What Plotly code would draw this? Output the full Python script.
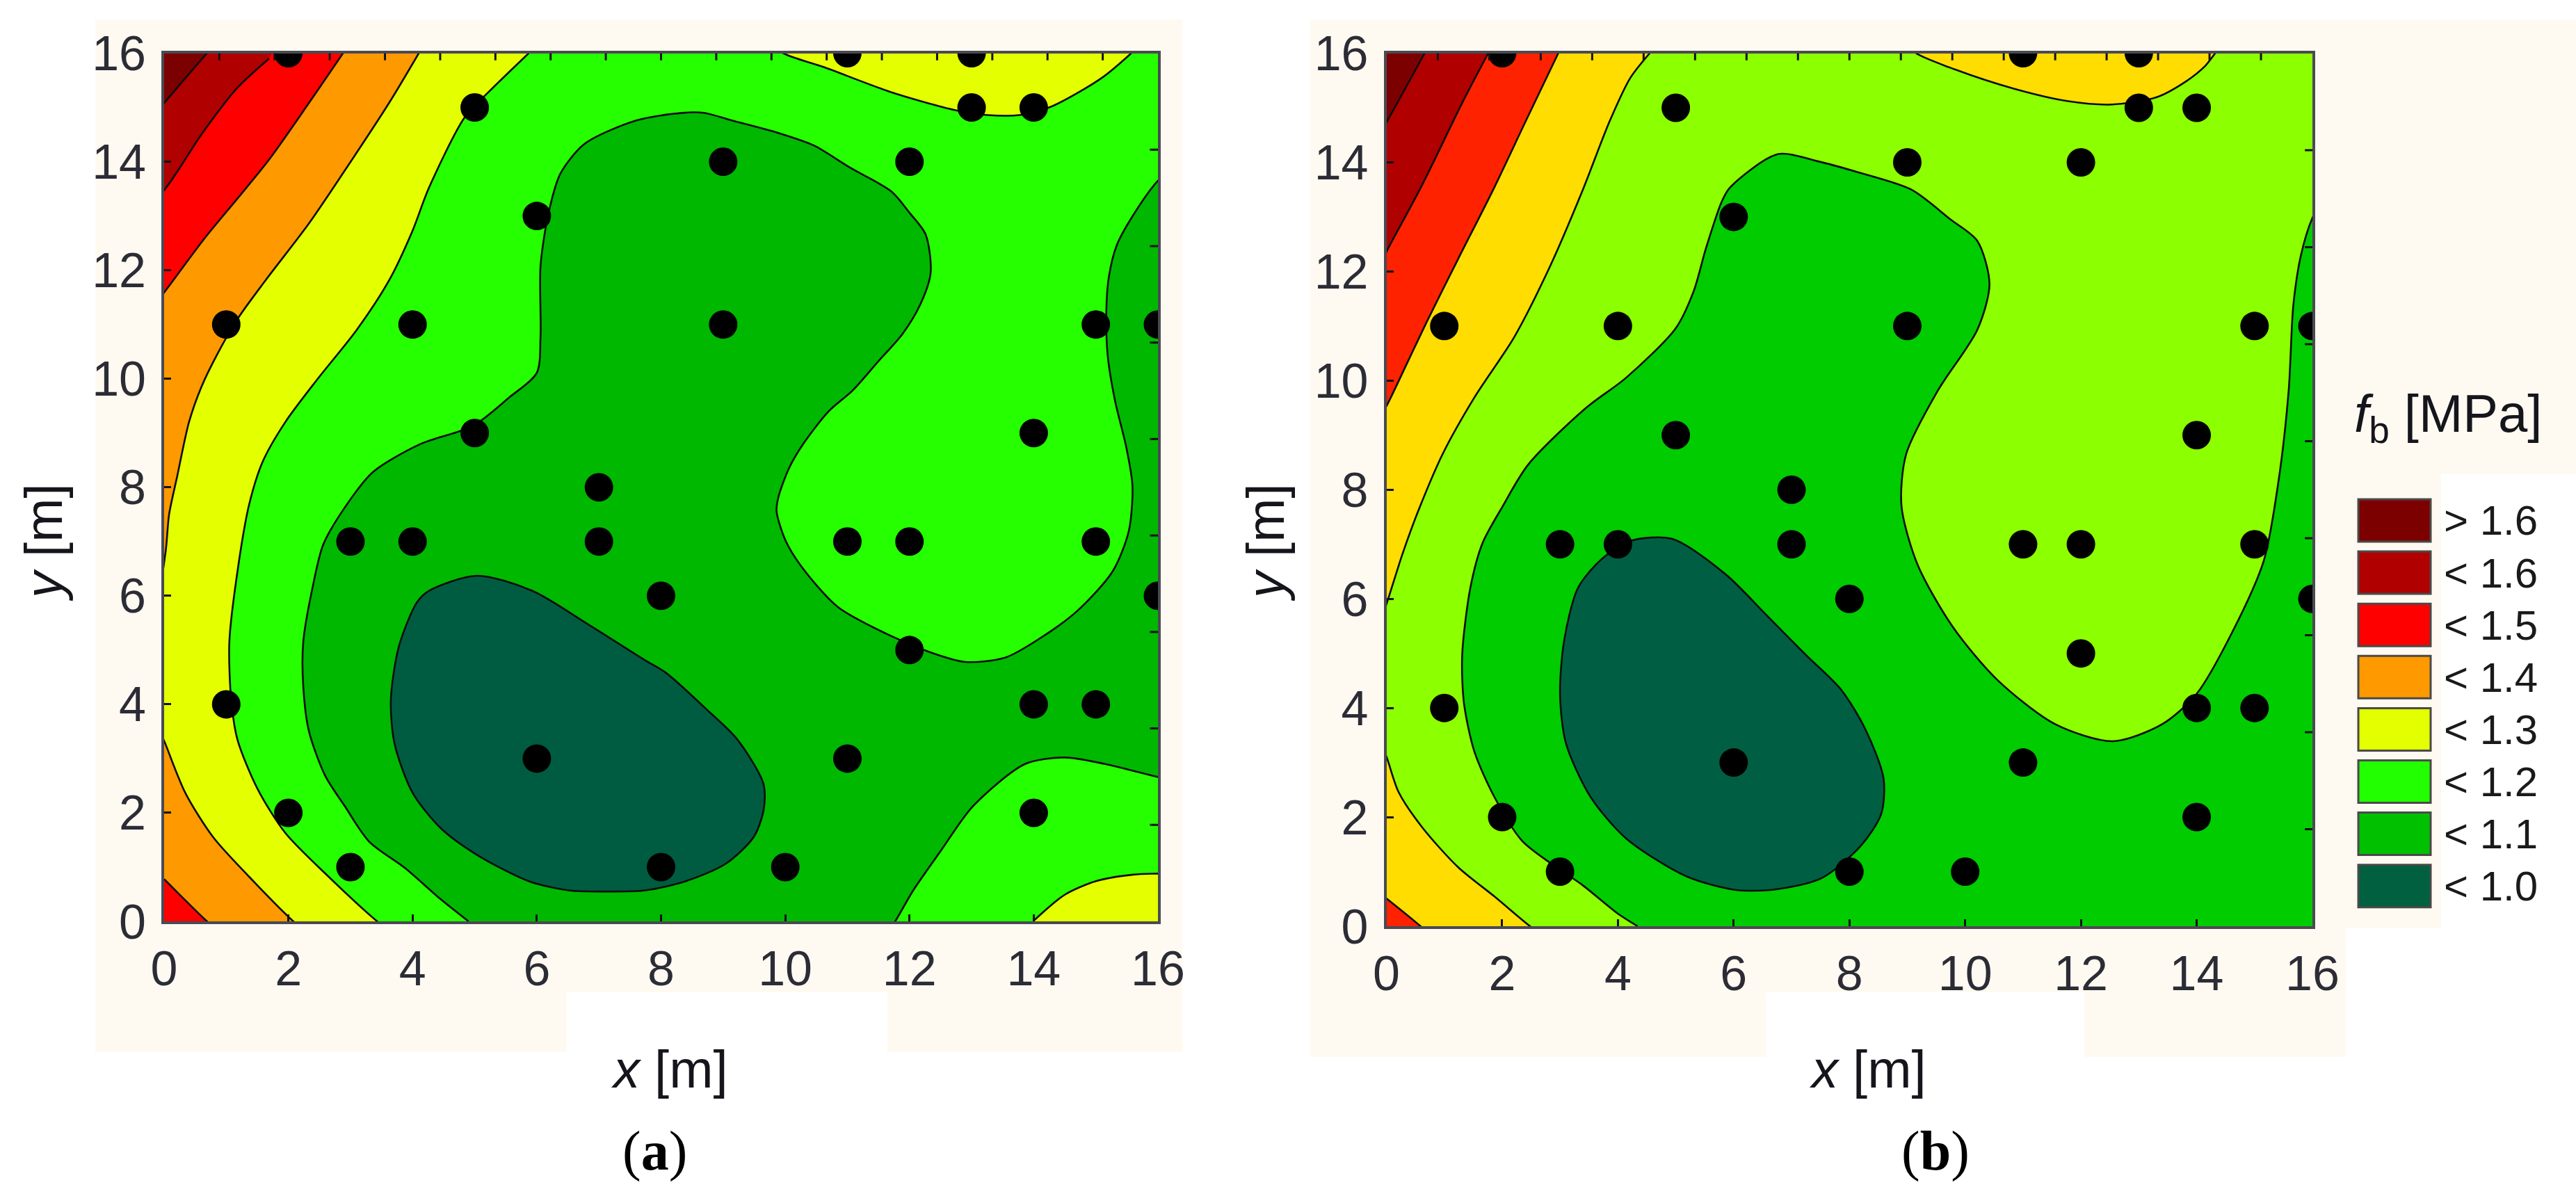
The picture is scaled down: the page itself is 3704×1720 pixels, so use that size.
import plotly.graph_objects as go

W, H = 3704, 1720

# ---------- measurement points (same in both panels)
POINT_X = [2, 11, 13, 5, 13, 14, 9, 12, 6, 1, 4, 9, 15, 16, 5, 14, 7, 3, 4, 7, 11, 12, 15, 8, 16, 12, 1, 14, 15, 6, 11, 2, 14, 3, 8, 10]
POINT_Y = [16, 16, 16, 15, 15, 15, 14, 14, 13, 11, 11, 11, 11, 11, 9, 9, 8, 7, 7, 7, 7, 7, 7, 6, 6, 5, 4, 4, 4, 3, 3, 2, 2, 1, 1, 1]

TICKS = [0, 2, 4, 6, 8, 10, 12, 14, 16]

LEGEND_LABELS = ["> 1.6", "< 1.6", "< 1.5", "< 1.4", "< 1.3", "< 1.2", "< 1.1", "< 1.0"]
LEGEND_COLORS = ["#7d0000", "#b00000", "#ff0000", "#ff9900", "#e4ff00", "#22ff00", "#00c000", "#006040"]

# ---------- panel (a) contour boundaries
A_C11_X = [4.9, 4.45, 3.88, 3.3, 2.91, 2.59, 2.33, 2.24, 2.24, 2.4, 2.56, 2.91, 3.36, 4.13, 4.97, 5.55, 6.0, 6.06, 6.06, 6.19, 6.38, 6.77, 7.6, 8.34, 8.69, 9.14, 9.89, 10.46, 11.03, 11.71, 12.0, 12.26, 12.34, 12.17, 11.89, 11.49, 11.09, 10.69, 10.29, 10.06, 9.89, 9.86, 10.0, 10.26, 10.84, 11.61, 12.38, 12.9, 13.54, 14.12, 14.7, 15.27, 15.53, 15.59, 15.49, 15.31, 15.19, 15.17, 15.21, 15.34, 15.66, 16, 17, 17, 16, 15.15, 14.5, 13.86, 13.02, 12.51, 12.06, 11.77, 11.4, 5.4]
A_C11_Y = [0, 0.41, 0.98, 1.47, 2.12, 2.69, 3.51, 4.33, 5.15, 6.21, 6.94, 7.63, 8.28, 8.8, 9.13, 9.65, 10.11, 10.77, 12.08, 13.06, 13.78, 14.33, 14.76, 14.9, 14.9, 14.76, 14.53, 14.3, 13.9, 13.45, 13.06, 12.66, 11.95, 11.36, 10.83, 10.31, 9.79, 9.39, 8.8, 8.35, 7.82, 7.56, 7.03, 6.54, 5.8, 5.31, 4.94, 4.78, 4.86, 5.23, 5.72, 6.45, 7.19, 8.02, 8.74, 9.59, 10.44, 11.29, 11.88, 12.47, 13.12, 13.65, 14.6, 2.4, 2.66, 2.9, 3.02, 2.9, 2.12, 1.31, 0.57, 0, -0.6, -0.6]

A_C10_X = [5.03, 5.93, 6.83, 7.73, 8.08, 8.72, 9.23, 9.65, 9.65, 9.49, 9.04, 8.4, 7.75, 7.1, 6.51, 5.87, 5.03, 4.45, 4.0, 3.71, 3.65, 3.78, 4.07, 4.26]
A_C10_Y = [6.37, 6.09, 5.47, 4.82, 4.58, 3.92, 3.35, 2.53, 2.04, 1.55, 1.06, 0.74, 0.57, 0.55, 0.57, 0.74, 1.23, 1.72, 2.37, 3.27, 4.08, 5.07, 5.88, 6.09]

A_C12_X = [5.87, 5.22, 4.84, 4.26, 4.0, 3.62, 3.1, 2.46, 1.95, 1.59, 1.37, 1.2, 1.05, 1.08, 1.18, 1.5, 1.95, 2.65, 3.43, 3.9, -1, -1, 6.6]
A_C12_Y = [16, 15.28, 14.82, 13.51, 12.73, 11.81, 10.9, 9.98, 9.2, 8.48, 7.69, 6.6, 5.15, 4.08, 3.35, 2.45, 1.63, 0.82, 0, -0.4, -1, 17, 16.8]

A_C13_TOP_X = [4.1, 3.62, 2.91, 2.33, 1.63, 1.18, 0.85, 0.6, 0.4, 0.21, 0.08, 0.02, -0.1, -1, -1, 4.7]
A_C13_TOP_Y = [16, 15.08, 13.84, 12.86, 11.81, 11.1, 10.44, 9.85, 9.2, 8.2, 7.5, 6.78, 6.2, 5.5, 17, 17]
A_C13_LOW_X = [-0.1, 0.02, 0.34, 0.79, 1.37, 2.08, 2.5, -1, -1]
A_C13_LOW_Y = [3.6, 3.27, 2.37, 1.55, 0.82, 0, -0.4, -1, 4]

A_C14_TOP_X = [2.88, 2.33, 1.69, 1.18, 0.66, 0.02, -0.4, -1, 3.4]
A_C14_TOP_Y = [16, 15.08, 14.04, 13.32, 12.6, 11.62, 11, 17, 17]
A_C14_LOW_X = [0, 0.69, 1.1, -1, -1]
A_C14_LOW_Y = [0.78, 0, -0.4, -1, 1.5]

A_C15_X = [1.69, 1.17, 0.6, 0.05, -0.4, -1, 2.2]
A_C15_Y = [15.9, 15.35, 14.5, 13.55, 13, 17, 17]
A_C16_X = [0.69, 0, -0.4, -1, 1.2]
A_C16_Y = [16, 15.08, 14.5, 17, 17]

A_TOP_PATCH_X = [9.5, 9.97, 10.63, 11.71, 12.74, 13.26, 13.77, 14.29, 15.09, 15.57, 16.1]
A_TOP_PATCH_Y = [16.4, 16, 15.74, 15.28, 14.95, 14.86, 14.86, 15.02, 15.54, 16, 16.6]
A_CORNER_X = [13.99, 14.5, 15.0, 15.6, 16, 16.8, 16.8, 13.5]
A_CORNER_Y = [0, 0.49, 0.74, 0.86, 0.88, 0.9, -1, -0.5]

# ---------- panel (b) contour boundaries
B_C11_X = [4.34, 4.0, 3.38, 2.83, 2.34, 1.86, 1.52, 1.34, 1.31, 1.45, 1.66, 2.0, 2.45, 3.45, 4.14, 5.0, 5.31, 5.52, 5.79, 5.93, 6.76, 7.45, 8.14, 9.07, 9.75, 10.21, 10.42, 10.21, 9.53, 8.98, 8.9, 9.18, 9.79, 10.56, 11.56, 12.55, 13.4, 14.0, 14.62, 15.16, 15.42, 15.59, 15.67, 15.8, 16, 17, 17, 4.9]
B_C11_Y = [0, 0.23, 0.76, 1.16, 1.57, 2.38, 3.2, 4.09, 4.98, 6.2, 7.02, 7.68, 8.46, 9.5, 10.05, 10.96, 11.64, 12.42, 13.27, 13.53, 14.15, 14.02, 13.82, 13.5, 12.95, 12.56, 11.77, 10.93, 9.82, 8.65, 7.7, 6.62, 5.48, 4.51, 3.7, 3.39, 3.7, 4.26, 5.4, 6.7, 8.2, 9.82, 11.38, 12.29, 12.98, 14.8, -1, -0.5]

B_C10_X = [4.21, 4.93, 5.86, 6.55, 7.24, 7.86, 8.28, 8.59, 8.55, 8.21, 7.52, 6.69, 6.0, 5.17, 4.14, 3.52, 3.1, 3.0, 3.07, 3.31, 3.72]
B_C10_Y = [7.06, 7.1, 6.45, 5.72, 4.98, 4.33, 3.6, 2.71, 2.06, 1.49, 0.88, 0.67, 0.67, 0.92, 1.61, 2.38, 3.36, 4.25, 5.23, 6.2, 6.73]

B_C13_TOP_X = [4.55, 4.21, 3.86, 3.38, 2.83, 2.21, 1.52, 0.97, 0.55, 0.28, 0, -0.3, -1, -1, 5.1]
B_C13_TOP_Y = [16, 15.54, 14.76, 13.46, 12.1, 10.8, 9.69, 8.65, 7.61, 6.83, 5.9, 5, 4.5, 17, 17]
B_C13_LOW_X = [-0.2, 0, 0.21, 0.62, 1.24, 1.86, 2.48, 3.0, -1, -1]
B_C13_LOW_Y = [3.6, 3.11, 2.46, 1.81, 1.08, 0.55, 0, -0.4, -1, 4]

B_C14_TOP_X = [2.97, 2.41, 1.86, 1.24, 0.69, 0.34, 0, -0.4, -1, 3.5]
B_C14_TOP_Y = [16, 14.76, 13.53, 12.23, 11.06, 10.28, 9.53, 8.8, 17, 17]
B_C14_LOW_X = [0, 0.59, 1.0, -1, -1]
B_C14_LOW_Y = [0.51, 0, -0.4, -1, 1.2]

B_C15_X = [1.76, 1.31, 0.62, 0, -0.4, -1, 2.2]
B_C15_Y = [16, 15.09, 13.59, 12.36, 11.5, 17, 17]
B_C16_X = [0.66, 0, -0.4, -1, 1.0]
B_C16_Y = [16, 14.73, 14, 17, 17]

B_TOP_PATCH_X = [8.7, 9.15, 9.83, 10.84, 11.78, 12.54, 13.3, 13.81, 14.15, 14.32, 14.7]
B_TOP_PATCH_Y = [16.4, 16, 15.7, 15.35, 15.12, 15.06, 15.19, 15.48, 15.77, 16, 16.6]

COL_A = dict(c16="#7d0000", c15="#b00000", c14="#ff0000", c13="#ff9900", c12="#e4ff00", c11="#26ff00", c10="#00b800", c9="#005c40")
COL_B = dict(c16="#7d0000", c15="#b00000", c14="#ff2200", c13="#ffdd00", c12="#8cff00", c10="#00cc00", c9="#005f42")

LINE = "#0c0c0c"
CREAM = "#fffaf1"
TEXT = "#2c2c36"

fig = go.Figure()


def region(x, y, color, ax):
    fig.add_trace(go.Scatter(
        x=x, y=y, mode="lines", fill="toself", fillcolor=color,
        line=dict(color=LINE, width=2.6, shape="spline", smoothing=0.8),
        xaxis=ax[0], yaxis=ax[1], hoverinfo="skip", showlegend=False))


AX_A = ("x", "y")
AX_B = ("x2", "y2")

region(A_C12_X, A_C12_Y, COL_A["c12"], AX_A)
region(A_C11_X, A_C11_Y, COL_A["c10"], AX_A)
region(A_C10_X + A_C10_X[:1], A_C10_Y + A_C10_Y[:1], COL_A["c9"], AX_A)
region(A_C13_TOP_X, A_C13_TOP_Y, COL_A["c13"], AX_A)
region(A_C13_LOW_X, A_C13_LOW_Y, COL_A["c13"], AX_A)
region(A_C14_TOP_X, A_C14_TOP_Y, COL_A["c14"], AX_A)
region(A_C14_LOW_X, A_C14_LOW_Y, COL_A["c14"], AX_A)
region(A_C15_X, A_C15_Y, COL_A["c15"], AX_A)
region(A_C16_X, A_C16_Y, COL_A["c16"], AX_A)
region(A_TOP_PATCH_X, A_TOP_PATCH_Y, COL_A["c12"], AX_A)
region(A_CORNER_X, A_CORNER_Y, COL_A["c12"], AX_A)

region(B_C11_X, B_C11_Y, COL_B["c10"], AX_B)
region(B_C10_X + B_C10_X[:1], B_C10_Y + B_C10_Y[:1], COL_B["c9"], AX_B)
region(B_C13_TOP_X, B_C13_TOP_Y, COL_B["c13"], AX_B)
region(B_C13_LOW_X, B_C13_LOW_Y, COL_B["c13"], AX_B)
region(B_C14_TOP_X, B_C14_TOP_Y, COL_B["c14"], AX_B)
region(B_C14_LOW_X, B_C14_LOW_Y, COL_B["c14"], AX_B)
region(B_C15_X, B_C15_Y, COL_B["c15"], AX_B)
region(B_C16_X, B_C16_Y, COL_B["c16"], AX_B)
region(B_TOP_PATCH_X, B_TOP_PATCH_Y, COL_B["c13"], AX_B)

for ax in (AX_A, AX_B):
    fig.add_trace(go.Scatter(
        x=POINT_X, y=POINT_Y, mode="markers",
        marker=dict(color="black", size=41, line=dict(width=0)),
        xaxis=ax[0], yaxis=ax[1], hoverinfo="skip", showlegend=False))


def px(v):
    return v / W


def py(v):
    return 1 - v / H


def rect(x0, y0, x1, y1, fill, line=None, layer="below"):
    return dict(type="rect", xref="paper", yref="paper", x0=px(x0), x1=px(x1), y0=py(y1), y1=py(y0),
                fillcolor=fill, line=dict(width=0 if line is None else 3, color=line or fill), layer=layer)


shapes = []
# cream page patches behind the two source images
for r in [(137, 28, 1700, 1427), (137, 1427, 815, 1513), (1276, 1427, 1700, 1513),
          (1884, 28, 3704, 682), (1884, 682, 3510, 1335), (1884, 1335, 3373, 1427),
          (1884, 1427, 2539, 1520), (2997, 1427, 3373, 1520)]:
    shapes.append(rect(*r, CREAM))

# plot backgrounds
shapes.append(dict(type="rect", xref="x domain", yref="y domain", x0=0, x1=1, y0=0, y1=1,
                   fillcolor=COL_A["c11"], line=dict(width=0), layer="below"))
shapes.append(dict(type="rect", xref="x2 domain", yref="y2 domain", x0=0, x1=1, y0=0, y1=1,
                   fillcolor=COL_B["c12"], line=dict(width=0), layer="below"))

# tick marks along the top and right frame
for xr, yr in (("x", "y"), ("x2", "y2")):
    for i in range(1, 18):
        v = i * 16 / 18
        shapes.append(dict(type="line", xref=xr, yref=yr, x0=v, x1=v, y0=16, y1=15.87,
                           line=dict(color="#111111", width=3), layer="above"))
    for i in range(1, 9):
        v = i * 16 / 9
        shapes.append(dict(type="line", xref=xr, yref=yr, x0=16, x1=15.87, y0=v, y1=v,
                           line=dict(color="#111111", width=3), layer="above"))

annotations = []
# legend
for i, (lab, col) in enumerate(zip(LEGEND_LABELS, LEGEND_COLORS)):
    top = 718 + i * 75.1
    shapes.append(rect(3391, top, 3495, top + 61, col, line="#4a4a4a", layer="above"))
    annotations.append(dict(text=lab, xref="paper", yref="paper", x=px(3512), y=py(top + 31),
                            xanchor="left", yanchor="middle", showarrow=False,
                            font=dict(family="Liberation Sans", size=60, color="#1a1a1a")))


def label(text, x, y, size, family="Liberation Sans", angle=0, color="#15151c"):
    annotations.append(dict(text=text, xref="paper", yref="paper", x=px(x), y=py(y),
                            xanchor="center", yanchor="middle", showarrow=False, textangle=angle,
                            font=dict(family=family, size=size, color=color)))


label("<i>x</i> [m]", 962, 1537, 76)
label("<i>x</i> [m]", 2685, 1537, 76)
label("<i>y</i> [m]", 63, 780, 76, angle=-90)
label("<i>y</i> [m]", 1820, 780, 76, angle=-90)
label("(<b>a</b>)", 941, 1655, 80, family="Liberation Serif", color="black")
label("(<b>b</b>)", 2783, 1655, 80, family="Liberation Serif", color="black")
label("<i>f</i><sub>b</sub> [MPa]", 3520, 600, 76)

axis_common = dict(
    range=[0, 16], tickmode="array", tickvals=TICKS, ticktext=[str(t) for t in TICKS],
    ticks="inside", ticklen=10, tickwidth=3, tickcolor="#111111", automargin=False,
    showgrid=False, zeroline=False, showline=True, mirror=True, linecolor="#4a4a52", linewidth=4,
    tickfont=dict(family="Liberation Sans", size=70, color=TEXT),
)

fig.update_layout(
    width=W, height=H, margin=dict(l=0, r=0, t=0, b=0),
    paper_bgcolor="white", plot_bgcolor="rgba(0,0,0,0)", showlegend=False,
    shapes=shapes, annotations=annotations,
    xaxis=dict(domain=[236 / W, 1665 / W], anchor="y", ticklabelstandoff=4, **axis_common),
    yaxis=dict(domain=[1 - 1325 / H, 1 - 76.5 / H], anchor="x", ticklabelstandoff=8, **axis_common),
    xaxis2=dict(domain=[1993.5 / W, 3325 / W], anchor="y2", ticklabelstandoff=4, **axis_common),
    yaxis2=dict(domain=[1 - 1332 / H, 1 - 76.5 / H], anchor="x2", ticklabelstandoff=8, **axis_common),
)

fig.write_html("out.html", config=dict(displayModeBar=False),
               post_script="document.body.style.margin='0';document.documentElement.style.overflow='hidden';")
